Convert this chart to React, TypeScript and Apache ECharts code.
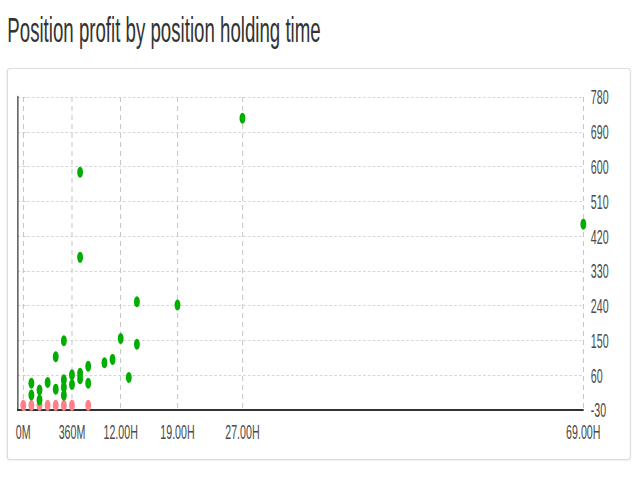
import React, { useEffect, useRef } from 'react';
import * as echarts from 'echarts';

// The reference is horizontally compressed; draw on a 1200px-wide canvas and squeeze to 640.
const VIRTUAL_W = 1200;
const SX = 640 / VIRTUAL_W;
const FONT = "'Liberation Sans', Arial, Helvetica, sans-serif";

const titleText = 'Position profit by position holding time';

const xTickValues = [0, 6, 12, 19, 27, 69];
const xTickLabels = ['0M', '360M', '12.00H', '19.00H', '27.00H', '69.00H'];

const yMin = -30;
const yMax = 780;
const yInterval = 90;

// holding time (hours) and profit for profitable positions
const profitHours = [1, 1, 2, 2, 3, 4, 4, 5, 5, 5, 5, 6, 6, 7, 7, 8, 8, 10, 11, 12, 13, 14, 14, 19, 7, 7, 27, 69];
const profitValues = [39, 9, 22, -4, 41, 108, 24, 149, 48, 29, 8, 61, 36, 65, 51, 83, 39, 92, 101, 155, 54, 140, 250, 242, 585, 365, 725, 451];

// holding time (hours) and profit for losing positions
const lossHours = [0, 1, 2, 3, 4, 5, 6, 8];
const lossValues = [-18, -18, -18, -18, -18, -18, -18, -18];

export default function App() {
  const ref = useRef<HTMLDivElement>(null);

  useEffect(() => {
    if (!ref.current) return;
    const chart = echarts.init(ref.current, null, { renderer: 'svg' });
    const profitData = profitHours.map((h, i) => [h, profitValues[i]]);
    const lossData = lossHours.map((h, i) => [h, lossValues[i]]);
    chart.setOption({
      animation: false,
      textStyle: { fontFamily: FONT },
      grid: { left: 32.8, right: 106.3, top: 97, bottom: 70 },
      xAxis: {
        type: 'value',
        min: -0.71,
        max: 69,
        axisLine: { show: true, onZero: false, lineStyle: { color: '#333', width: 2 } },
        axisTick: { show: false, customValues: xTickValues },
        axisLabel: {
          customValues: xTickValues,
          formatter: (v: number) => {
            const i = xTickValues.indexOf(v);
            return i >= 0 ? xTickLabels[i] : '';
          },
          fontSize: 20,
          color: '#4a4a4a',
          margin: 12,
          fontFamily: FONT,
        },
        splitLine: { show: true, lineStyle: { type: [5, 4], color: '#c8c8c8', width: 2 } },
      },
      yAxis: [
        {
          type: 'value',
          position: 'right',
          min: yMin,
          max: yMax,
          interval: yInterval,
          axisLine: { show: false },
          axisTick: { show: true, length: 5, lineStyle: { color: '#c8c8c8' } },
          axisLabel: { fontSize: 20, color: '#4a4a4a', margin: 14, fontFamily: FONT },
          splitLine: { show: true, lineStyle: { type: [5, 4], color: '#c8c8c8', width: 1 } },
        },
        {
          type: 'value',
          position: 'left',
          min: yMin,
          max: yMax,
          interval: yInterval,
          axisLine: { show: true, onZero: false, lineStyle: { color: '#444', width: 2.5 } },
          axisTick: { show: false },
          axisLabel: { show: false },
          splitLine: { show: false },
        },
      ],
      series: [
        {
          name: 'loss',
          type: 'scatter',
          yAxisIndex: 0,
          symbolSize: 11,
          itemStyle: { color: '#ff8088', opacity: 1 },
          data: lossData,
        },
        {
          name: 'profit',
          type: 'scatter',
          yAxisIndex: 0,
          symbolSize: 11,
          itemStyle: { color: '#00ad00', opacity: 1 },
          data: profitData,
        },
      ],
    });
    return () => chart.dispose();
  }, []);

  return (
    <div
      style={{
        position: 'fixed',
        left: 0,
        top: 0,
        width: VIRTUAL_W,
        height: 480,
        transform: `scaleX(${SX})`,
        transformOrigin: '0 0',
        fontFamily: FONT,
        background: '#fff',
        overflow: 'hidden',
      }}
    >
      <div
        style={{
          position: 'absolute',
          left: 13.7,
          top: 12,
          fontSize: 35,
          lineHeight: '35px',
          color: '#333',
          whiteSpace: 'nowrap',
        }}
      >
        {titleText}
      </div>
      <div
        style={{
          position: 'absolute',
          left: 12.6,
          top: 68.3,
          width: 1166,
          height: 389.7,
          borderStyle: 'solid',
          borderColor: '#dcdcdc',
          borderWidth: '1px 2px',
          borderRadius: '6px / 3px',
          boxShadow: '0 1px 2px rgba(0,0,0,0.06)',
        }}
      />
      <div ref={ref} style={{ position: 'absolute', left: 0, top: 0, width: VIRTUAL_W, height: 480 }} />
    </div>
  );
}
